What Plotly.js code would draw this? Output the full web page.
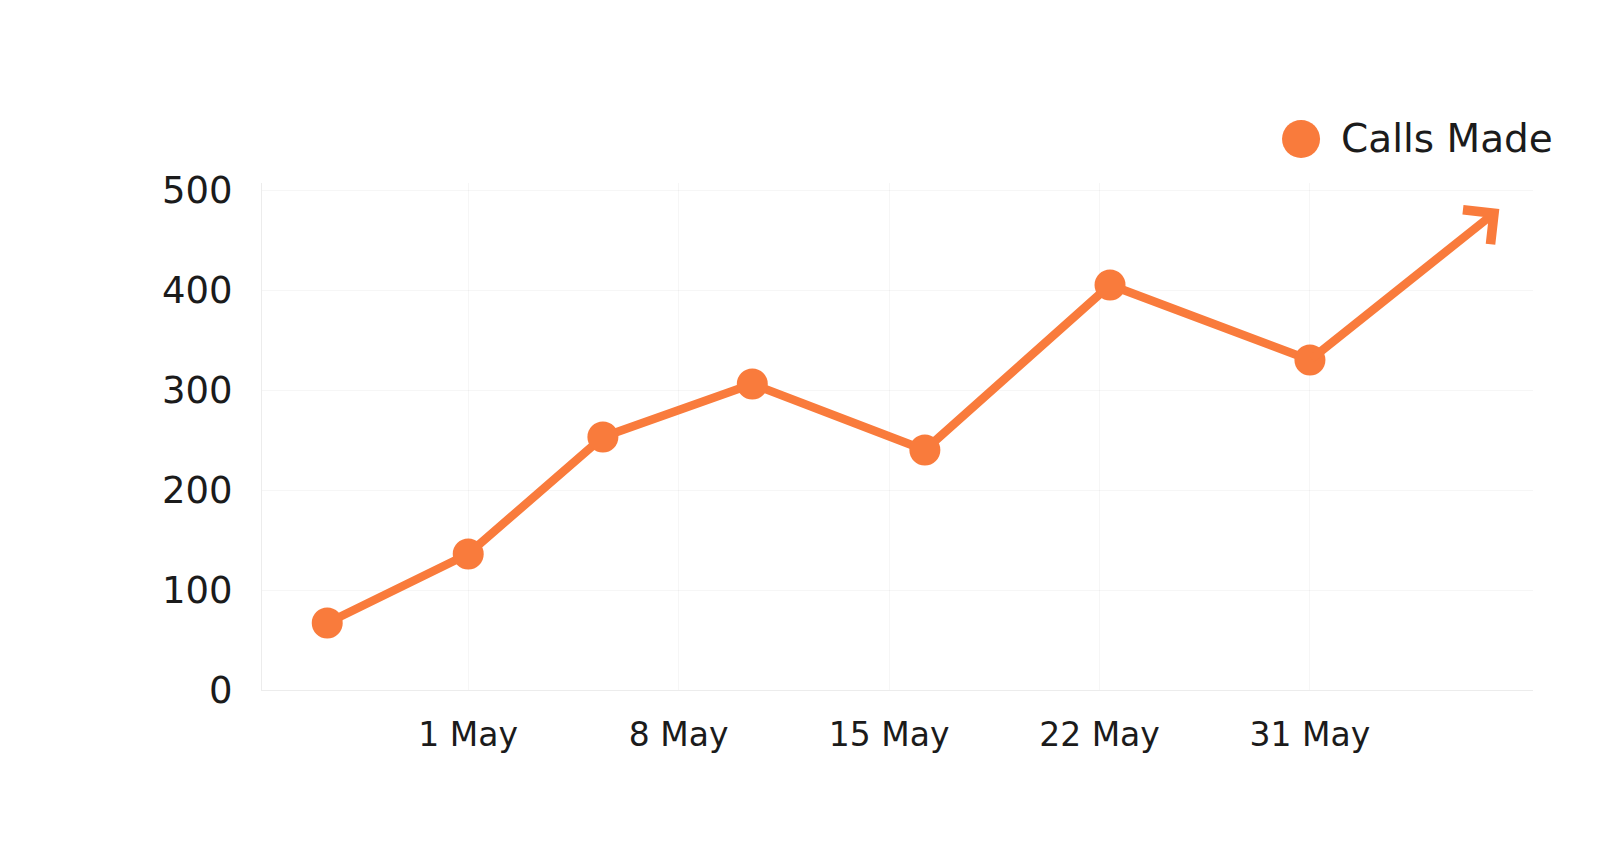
<!DOCTYPE html>
<html>
<head>
<meta charset="utf-8">
<script src="https://cdn.plot.ly/plotly-3.0.1.min.js"></script>
<style>
  html, body { margin: 0; padding: 0; background: #ffffff; }
  #chart { width: 1623px; height: 856px; }
</style>
</head>
<body>
<div id="chart"></div>
<script>
// ---- data ----
const tickPositions = [1, 2, 3, 4, 5];
const tickLabels = ['1 May', '8 May', '15 May', '22 May', '31 May'];
const pointPositions = [0.33, 1.0, 1.64, 2.35, 3.17, 4.05, 5.0];
const callsMade = [67, 136, 253, 306, 240, 405, 330];
const trendEndPosition = 5.9;
const trendEndValue = 481;
const seriesName = 'Calls Made';
const yTickValues = [0, 100, 200, 300, 400, 500];

// ---- style ----
const ORANGE = '#F97B3C';
const TEXT = '#1b1b1b';
const GRID = 'rgba(0,0,0,0.035)';
const FONT = 'DejaVu Sans, sans-serif';

const trace = {
  type: 'scatter',
  mode: 'lines+markers',
  name: seriesName,
  x: pointPositions,
  y: callsMade,
  line: { color: ORANGE, width: 8.5 },
  marker: { color: ORANGE, size: 31 },
  cliponaxis: false,
  showlegend: false
};

const last = callsMade.length - 1;

const layout = {
  width: 1623,
  height: 856,
  paper_bgcolor: '#ffffff',
  plot_bgcolor: '#ffffff',
  margin: { l: 262, r: 90, t: 183, b: 166 },
  showlegend: false,
  font: { family: FONT, color: TEXT },
  xaxis: {
    range: [0.02, 6.06],
    tickvals: tickPositions,
    ticktext: tickLabels,
    showgrid: true,
    gridcolor: GRID,
    gridwidth: 1,
    showline: true,
    linecolor: '#ececec',
    linewidth: 1,
    zeroline: false,
    ticks: '',
    ticklabelstandoff: 15,
    tickfont: { family: FONT, size: 33, color: TEXT }
  },
  yaxis: {
    range: [0, 507],
    tickvals: yTickValues,
    showgrid: true,
    gridcolor: GRID,
    gridwidth: 1,
    showline: true,
    linecolor: '#ececec',
    linewidth: 1,
    zeroline: false,
    ticks: '',
    ticklabelstandoff: 21,
    tickfont: { family: FONT, size: 37, color: TEXT }
  },
  annotations: [
    {
      xref: 'x', yref: 'y', axref: 'x', ayref: 'y',
      x: trendEndPosition, y: trendEndValue,
      ax: pointPositions[last], ay: callsMade[last],
      text: '',
      showarrow: true,
      arrowhead: 4,
      arrowsize: 1.0,
      arrowwidth: 8.5,
      arrowcolor: ORANGE,
      standoff: 0,
      startstandoff: 0
    },
    {
      xref: 'paper', yref: 'paper',
      x: 0.8474, y: 1.0868,
      xanchor: 'left', yanchor: 'middle',
      text: seriesName,
      showarrow: false,
      font: { family: FONT, size: 39, color: TEXT }
    }
  ],
  shapes: [
    {
      type: 'circle',
      xref: 'paper', yref: 'paper',
      xsizemode: 'pixel', ysizemode: 'pixel',
      xanchor: 0.8175, yanchor: 1.0868,
      x0: -19, x1: 19, y0: -19, y1: 19,
      fillcolor: ORANGE,
      line: { width: 0 }
    }
  ]
};

Plotly.newPlot('chart', [trace], layout, { displayModeBar: false, staticPlot: true });
</script>
</body>
</html>
